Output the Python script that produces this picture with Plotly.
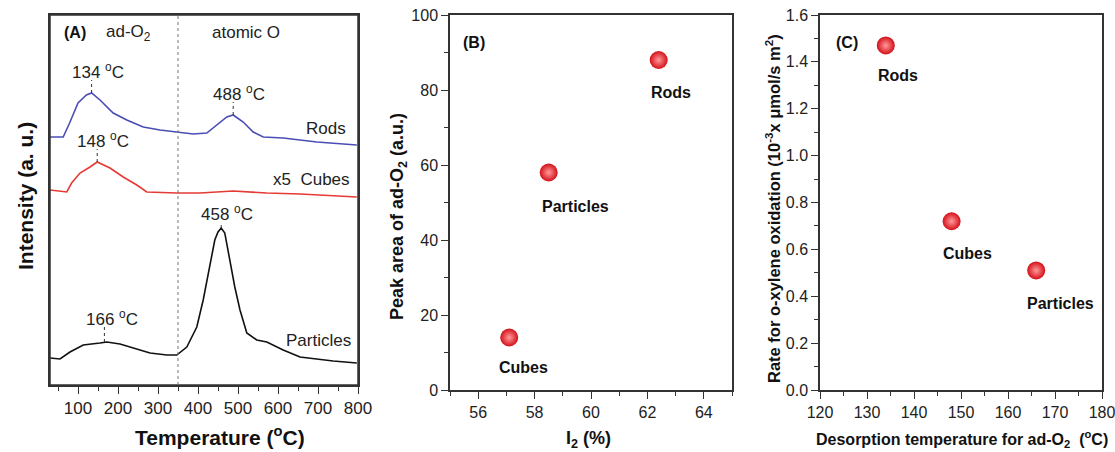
import plotly.graph_objects as go

# ---------------- Panel A data (TPD curves) ----------------
rods_T = [30, 63, 79, 100, 121, 134, 155, 188, 222, 263, 305, 347, 388, 422, 447, 472, 488, 513, 538, 563, 613, 697, 797]
rods_I = [248, 248, 262, 282, 290, 292, 285, 272, 265, 258, 255, 253, 251, 252, 260, 268, 270, 263, 253, 248, 247, 243, 240]

cubes_T = [30, 72, 84, 105, 130, 148, 180, 213, 247, 272, 347, 405, 488, 572, 655, 797]
cubes_I = [195, 193, 202, 212, 218, 223, 217, 208, 200, 193, 192, 192, 194, 192, 191, 188]

part_T = [30, 55, 80, 113, 155, 172, 205, 238, 280, 322, 347, 372, 397, 413, 430, 442, 450, 458, 467, 480, 492, 505, 522, 547, 572, 613, 655, 738, 797]
part_I = [27, 26, 33, 40, 42, 43, 41, 37, 32, 30, 30, 38, 58, 85, 118, 145, 153, 157, 152, 125, 98, 75, 52, 45, 43, 35, 28, 24, 22]

peak_T = [134, 488, 148, 458, 166]
peak_I = [292, 270, 223, 157, 43]
peak_labels = ["134 <sup>o</sup>C", "488 <sup>o</sup>C", "148 <sup>o</sup>C", "458 <sup>o</sup>C", "166 <sup>o</sup>C"]
divider_T = 350

# ---------------- Panel B data ----------------
samples_B = ["Rods", "Particles", "Cubes"]
i2_pct = [62.4, 58.5, 57.1]
peak_area = [88, 58, 14]

# ---------------- Panel C data ----------------
samples_C = ["Rods", "Cubes", "Particles"]
desorp_T = [134, 148, 166]
rate = [1.47, 0.72, 0.51]

W, H = 1115, 452
def px(x): return x / W
def py(y): return 1 - y / H

fig = go.Figure()

# Panel A curves
fig.add_trace(go.Scatter(x=rods_T, y=rods_I, mode="lines", line=dict(color="#4a4db3", width=1.6),
                         xaxis="x", yaxis="y", showlegend=False))
fig.add_trace(go.Scatter(x=cubes_T, y=cubes_I, mode="lines", line=dict(color="#e63a34", width=1.6),
                         xaxis="x", yaxis="y", showlegend=False))
fig.add_trace(go.Scatter(x=part_T, y=part_I, mode="lines", line=dict(color="#111111", width=1.6),
                         xaxis="x", yaxis="y", showlegend=False))

marker = dict(size=18, color="#d40f18", gradient=dict(type="radial", color="#ff9a9a"),
              line=dict(width=0))
fig.add_trace(go.Scatter(x=i2_pct, y=peak_area, mode="markers", marker=marker,
                         xaxis="x2", yaxis="y2", showlegend=False))
fig.add_trace(go.Scatter(x=desorp_T, y=rate, mode="markers", marker=marker,
                         xaxis="x3", yaxis="y3", showlegend=False))

ann = []
shapes = []
# frame of panel A
shapes.append(dict(type="rect", xref="x domain", yref="y domain", x0=0, x1=1, y0=0, y1=1,
                   line=dict(color="#333", width=1.5), layer="above"))
# vertical divider
shapes.append(dict(type="line", xref="x", yref="y domain", x0=divider_T, x1=divider_T,
                   y0=0, y1=1, line=dict(color="#777777", width=1, dash="dot")))
# peak markers and labels
peak_shift = [22, 22, 22, 15, 24]
peak_xshift = [6, 6, 6, 6, 8]
for T, I, lab, ys, xs in zip(peak_T, peak_I, peak_labels, peak_shift, peak_xshift):
    shapes.append(dict(type="line", xref="x", yref="y", x0=T, x1=T, y0=I, y1=I + ys - 9,
                       line=dict(color="#333333", width=1, dash="dot")))
    ann.append(dict(x=T, y=I, xref="x", yref="y", text=lab, showarrow=False,
                    xanchor="center", yanchor="middle",
                    yshift=ys, xshift=xs, font=dict(size=17, color="#222")))


def pann(x, y, text, size, xanchor="center", angle=0, color="#111"):
    return dict(x=px(x), y=py(y), xref="paper", yref="paper", text=text, showarrow=False,
                xanchor=xanchor, yanchor="middle", textangle=angle,
                font=dict(size=size, color=color, family="Liberation Sans, Arial"))


ann += [
    pann(62, 32, "<b>(A)</b>", 16, "left"),
    pann(104, 33, "ad-O<sub>2</sub>", 17, "left", color="#222"),
    pann(210, 32, "atomic O", 17, "left", color="#222"),
    pann(348, 128, "Rods", 17, "right", color="#222"),
    pann(352, 180, "x5  Cubes", 17, "right", color="#222"),
    pann(353, 340, "Particles", 17, "right", color="#222"),
    pann(25, 196, "<b>Intensity (a. u.)</b>", 21, angle=-90),
    pann(220, 436, "<b>Temperature (<sup>o</sup>C)</b>", 21),
    # Panel B
    pann(461, 42, "<b>(B)</b>", 16, "left"),
    pann(398, 217, "<b>Peak area of ad-O<sub>2</sub> (a.u.)</b>", 18, angle=-90),
    pann(588, 439, "<b>I<sub>2</sub> (%)</b>", 18),
    # Panel C
    pann(834, 43, "<b>(C)</b>", 16, "left"),
    pann(773, 209, "<b>Rate for o-xylene oxidation (10<sup>-3</sup>x μmol/s m<sup>2</sup>)</b>", 16.5, angle=-90),
    pann(962, 439, "<b>Desorption temperature for ad-O<sub>2</sub>  (<sup>o</sup>C)</b>", 16),
]
lab_font = dict(size=16, color="#111", family="Liberation Sans, Arial")
shiftB = {"Rods": (12, -32), "Particles": (27, -34), "Cubes": (14, -30)}
for x, y, s in zip(i2_pct, peak_area, samples_B):
    dx, dy = shiftB[s]
    ann.append(dict(x=x, y=y, xref="x2", yref="y2", text="<b>%s</b>" % s, showarrow=False,
                    xanchor="center", yanchor="middle", xshift=dx, yshift=dy, font=lab_font))
shiftC = {"Rods": (12, -30), "Cubes": (16, -32), "Particles": (24, -33)}
for x, y, s in zip(desorp_T, rate, samples_C):
    dx, dy = shiftC[s]
    ann.append(dict(x=x, y=y, xref="x3", yref="y3", text="<b>%s</b>" % s, showarrow=False,
                    xanchor="center", yanchor="middle", xshift=dx, yshift=dy, font=lab_font))

axis_common = dict(showline=True, linecolor="#333", linewidth=1.5, mirror=True, showgrid=False,
                   zeroline=False, ticks="outside", ticklen=7, tickwidth=1.2, tickcolor="#333",
                   automargin=False, ticklabeloverflow="allow",
                   tickfont=dict(size=16, color="#222", family="Liberation Sans, Arial"))
minor = lambda d: dict(dtick=d, ticks="outside", ticklen=4, tickcolor="#333", tickwidth=1)

fig.update_layout(
    width=W, height=H, margin=dict(l=0, r=0, t=0, b=0, autoexpand=False),
    paper_bgcolor="white", plot_bgcolor="white",
    font=dict(family="Liberation Sans, Arial", color="#222"),
    xaxis=dict(axis_common, domain=[px(50), px(358)], range=[30, 800], dtick=100, tick0=0,
               tickfont=dict(size=17, color="#222", family="Liberation Sans, Arial"),
               minor=minor(50), anchor="y"),
    yaxis=dict(axis_common, domain=[py(385), py(15)], range=[0, 370], showticklabels=False, ticks="", anchor="x"),
    xaxis2=dict(axis_common, domain=[px(450), px(732)], range=[55, 65], dtick=2, tick0=0,
                minor=minor(1), anchor="y2"),
    yaxis2=dict(axis_common, domain=[py(390), py(15)], range=[0, 100], dtick=20,
                minor=minor(10), anchor="x2"),
    xaxis3=dict(axis_common, domain=[px(820), px(1102)], range=[120, 180], dtick=10,
                minor=minor(5), anchor="y3"),
    yaxis3=dict(axis_common, domain=[py(390), py(15)], range=[0, 1.6], dtick=0.2, tickformat=".1f",
                minor=minor(0.1), anchor="x3"),
    annotations=ann, shapes=shapes,
)

fig.write_html("out.html", config={"displayModeBar": False},
               post_script="document.body.style.margin='0px';document.body.style.overflow='hidden';")
